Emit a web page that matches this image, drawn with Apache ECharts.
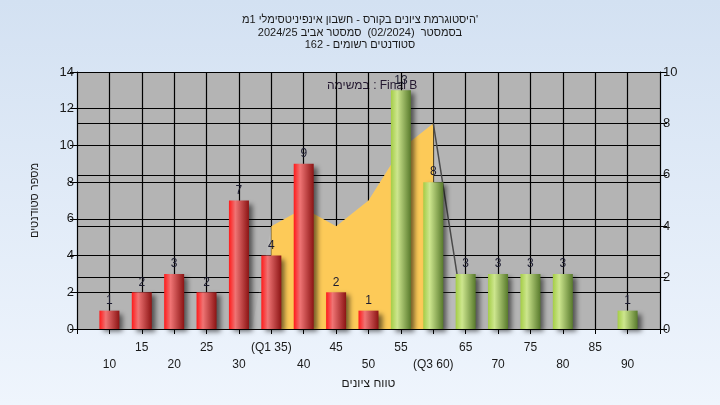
<!DOCTYPE html>
<html>
<head>
<meta charset="utf-8">
<script src="https://cdn.jsdelivr.net/npm/echarts@6/dist/echarts.min.js"></script>
<style>
html,body{margin:0;padding:0;}
#c{width:720px;height:405px;}
</style>
</head>
<body>
<div id="c"></div>
<script>
// ---- data ----
const categories = [10,15,20,25,30,35,40,45,50,55,60,65,70,75,80,85,90];
const tickLabels = ['10','15','20','25','30','(Q1 35)','40','45','50','55','(Q3 60)','65','70','75','80','85','90'];
const counts = [1,2,3,2,7,4,9,2,1,13,8,3,3,3,3,0,1];
const passThreshold = 55;
// distribution envelope (right axis)
const distX = [32,35,40,45,50,55,60,65];
const distY = [0,4,4.7,4,5,7,8,0];
// inter-quartile part (Q1..Q3)
const iqrX = [35,40,45,50,55,60];
const iqrY = [4,4.7,4,5,7,8];
// tail line
const tailX = [60,65];
const tailY = [8,0];

const titleLines = [
  "היסטוגרמת ציונים בקורס - חשבון אינפיניטסימלי 1מ'",
  "בסמסטר  (02/2024)  סמסטר אביב 2024/25",
  "סטודנטים רשומים - 162"
];
const xName = "טווח ציונים";
const yName = "מספר סטודנטים";
const taskText = "במשימה : Final B";

const FONT = "'Liberation Sans', Arial, sans-serif";
const TXT = '#1a1a1a';
const FONT12 = '12px ' + FONT;

const redGrad = {type:'linear',x:0,y:0,x2:1,y2:0,colorStops:[
  {offset:0,color:'#ff1a1a'},{offset:0.32,color:'#ef7474'},{offset:1,color:'#8c1414'}]};
const greenGrad = {type:'linear',x:0,y:0,x2:1,y2:0,colorStops:[
  {offset:0,color:'#a4cd46'},{offset:0.32,color:'#cde68e'},{offset:1,color:'#587a2c'}]};

const barData = categories.map((c,i)=>({
  value:[c,counts[i]],
  itemStyle:{color: c>=passThreshold ? greenGrad : redGrad}
}));

const chart = echarts.init(document.getElementById('c'), null, {renderer:'canvas'});
chart.setOption({
  animation:false,
  backgroundColor:{type:'linear',x:0,y:0,x2:0,y2:1,colorStops:[
    {offset:0,color:'#d3e1f2'},{offset:1,color:'#eff5fd'}]},
  title:{
    text: titleLines.join('\n'),
    left:'center', top:9,
    textStyle:{fontFamily:FONT,fontSize:11,fontWeight:'normal',color:TXT,lineHeight:12.5}
  },
  graphic:[{type:'text', x:327, y:86, silent:true,
    style:{text:taskText, font:FONT12, fill:'#241830', textAlign:'left', textVerticalAlign:'middle'}}],
  grid:{left:77,right:60,top:72,bottom:76,show:true,backgroundColor:'#b4b4b4',borderWidth:0},
  xAxis:{
    type:'value', min:5, max:95, interval:5,
    name:xName, nameLocation:'middle', nameGap:44,
    nameTextStyle:{fontFamily:FONT,fontSize:12,color:TXT},
    axisLine:{show:true,lineStyle:{color:'#000',width:1}},
    axisTick:{show:true,length:5,lineStyle:{color:'#000'}},
    splitLine:{show:true,lineStyle:{color:'#000',width:1.2}},
    axisLabel:{
      fontFamily:FONT,fontSize:12,color:TXT,margin:10,lineHeight:17,
      showMinLabel:true,showMaxLabel:true,
      formatter:v=>{
        const i = categories.indexOf(v);
        if(i<0) return '';
        return (i%2===0 ? '\n' : '') + tickLabels[i];
      }
    }
  },
  yAxis:[{
    type:'value', min:0, max:14, interval:2, position:'left',
    name:yName, nameLocation:'middle', nameGap:37, nameRotate:90,
    nameTextStyle:{fontFamily:FONT,fontSize:11,color:TXT},
    axisLine:{show:true,lineStyle:{color:'#000'}},
    axisTick:{show:true,length:7,lineStyle:{color:'#000'}},
    axisLabel:{fontFamily:FONT,fontSize:13,color:TXT,margin:3},
    splitLine:{show:true,lineStyle:{color:'#000',width:1.2}}
  },{
    type:'value', min:0, max:10, interval:2, position:'right',
    axisLine:{show:true,lineStyle:{color:'#000'}},
    axisTick:{show:true,length:7,lineStyle:{color:'#000'}},
    axisLabel:{fontFamily:FONT,fontSize:13,color:TXT,margin:3},
    splitLine:{show:true,lineStyle:{color:'#000',width:1.2}}
  }],
  series:[
    {
      type:'line', yAxisIndex:1, z:1,
      data: distX.map((x,i)=>[x,distY[i]]),
      symbol:'none', lineStyle:{width:0},
      areaStyle:{color:'rgba(255,255,255,0.13)'}
    },
    {
      type:'line', yAxisIndex:1, z:2,
      data: iqrX.map((x,i)=>[x,iqrY[i]]),
      symbol:'none', lineStyle:{width:0},
      areaStyle:{color:'#fdca58',opacity:1}
    },
    {
      type:'line', yAxisIndex:1, z:3,
      data: tailX.map((x,i)=>[x,tailY[i]]),
      symbol:'none', lineStyle:{color:'#4a4a4a',width:1.5}
    },
    {
      type:'bar', yAxisIndex:0, z:5, barWidth:20,
      data: barData,
      itemStyle:{shadowColor:'rgba(0,0,0,0.55)',shadowBlur:5,shadowOffsetX:4,shadowOffsetY:3},
      label:{show:true,position:'top',distance:4,fontFamily:FONT,fontSize:12,color:'#1c1c30',
        formatter:p=>p.value[1]===0?'':String(p.value[1])}
    }
  ]
});
</script>
</body>
</html>
